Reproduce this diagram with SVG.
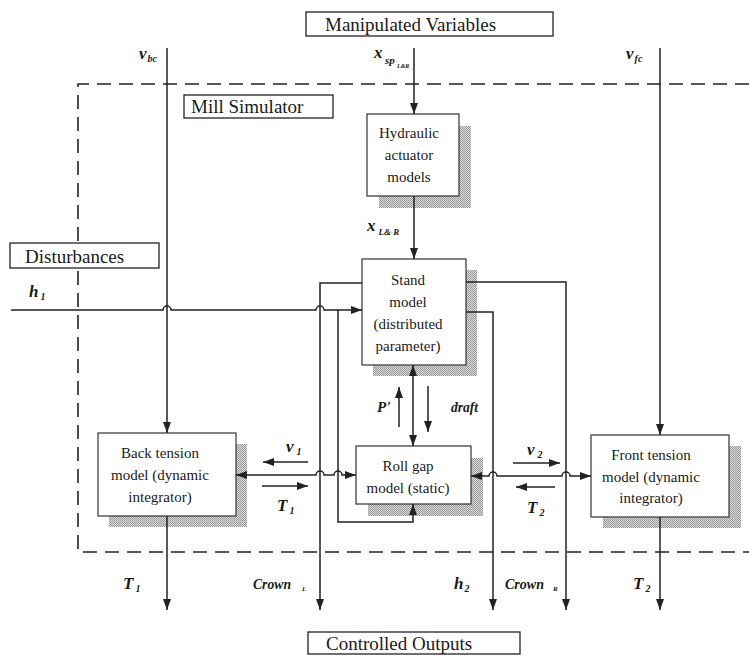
<svg xmlns="http://www.w3.org/2000/svg" width="749" height="655" viewBox="0 0 749 655" font-family="Liberation Serif, Times New Roman, serif">
<style>
.ln{fill:none;stroke:#222;stroke-width:1.5}
.ar{marker-end:url(#ah)}
.bi{marker-start:url(#ah);marker-end:url(#ah)}
.dash{fill:none;stroke:#222;stroke-width:1.6;stroke-dasharray:14 8}
.box{fill:#fff;stroke:#333;stroke-width:1.2}
.lbox{fill:#fff;stroke:#222;stroke-width:1.3}
.sh{fill:url(#stip)}
.t{font-size:15px;fill:#1a1a1a;text-anchor:middle}
.tl{font-size:19px;fill:#1a1a1a}
.lab{font-weight:bold;font-style:italic;fill:#1a1a1a}
</style>
<defs>
<marker id="ah" viewBox="0 0 11 8" refX="11" refY="4" markerWidth="11" markerHeight="8" markerUnits="userSpaceOnUse" orient="auto-start-reverse">
<path d="M0,0 L11,4 L0,8 z" fill="#222"/>
</marker>
<pattern id="stip" width="2" height="2" patternUnits="userSpaceOnUse">
<rect width="2" height="2" fill="#dadada"/>
<rect width="1" height="1" fill="#9a9a9a"/>
<rect x="1" y="1" width="1" height="1" fill="#9a9a9a"/>
</pattern>
</defs>
<rect width="749" height="655" fill="#fff"/>

<path class="dash" d="M749,84 L78,84 L78,552 L749,552"/>

<g id="manipulated">
<rect class="lbox" x="306" y="12" width="247" height="24"/>
<text class="tl" x="325" y="31">Manipulated Variables</text>
</g>
<g id="millsim">
<rect class="lbox" x="184" y="95" width="149" height="23"/>
<text class="tl" x="191" y="113">Mill Simulator</text>
</g>
<g id="disturbances">
<rect class="lbox" x="10" y="243" width="149" height="25"/>
<text class="tl" x="25" y="263">Disturbances</text>
</g>
<g id="controlled">
<rect class="lbox" x="308" y="632" width="212" height="22"/>
<text class="tl" x="326" y="650">Controlled Outputs</text>
</g>

<g id="hydraulic">
<rect class="sh" x="379" y="126" width="92" height="82"/>
<rect class="box" x="367" y="114" width="92" height="82"/>
<text class="t" x="409" y="138">Hydraulic</text>
<text class="t" x="409" y="160">actuator</text>
<text class="t" x="409" y="182">models</text>
</g>
<g id="stand">
<rect class="sh" x="373" y="270" width="104" height="106"/>
<rect class="box" x="362" y="259" width="104" height="106"/>
<text class="t" x="408" y="285">Stand</text>
<text class="t" x="408" y="307">model</text>
<text class="t" x="408" y="329">(distributed</text>
<text class="t" x="408" y="351">parameter)</text>
</g>
<g id="backtension">
<rect class="sh" x="109" y="444" width="138" height="83"/>
<rect class="box" x="98" y="433" width="138" height="83"/>
<text class="t" x="160" y="458">Back tension</text>
<text class="t" x="160" y="480">model (dynamic</text>
<text class="t" x="160" y="502">integrator)</text>
</g>
<g id="rollgap">
<rect class="sh" x="368" y="458" width="115" height="58"/>
<rect class="box" x="356" y="446" width="115" height="58"/>
<text class="t" x="408" y="471">Roll gap</text>
<text class="t" x="408" y="493">model (static)</text>
</g>
<g id="fronttension">
<rect class="sh" x="603" y="446" width="138" height="82"/>
<rect class="box" x="591" y="435" width="138" height="82"/>
<text class="t" x="651" y="460">Front tension</text>
<text class="t" x="651" y="482">model (dynamic</text>
<text class="t" x="651" y="503">integrator)</text>
</g>

<g id="connectors">
<path class="ln ar" d="M167,48 L167,433"/>
<path class="ln ar" d="M414,48 L414,114"/>
<path class="ln ar" d="M660,48 L660,435"/>
<path class="ln ar" d="M414,196 L414,259"/>
<path class="ln bi" d="M413,365 L413,446"/>
<path class="ln ar" d="M399,427 L399,387"/>
<path class="ln ar" d="M428,386 L428,432"/>
<path class="ln ar" d="M11,310 L163,310 A4,4 0 0 1 171,310 L316,310 A4,4 0 0 1 324,310 L362,310"/>
<path class="ln ar" d="M338,310 L338,522 L413,522 L413,504"/>
<path class="ln ar" d="M362,283 L320,283 L320,610"/>
<path class="ln ar" d="M466,282 L566,282 L566,610"/>
<path class="ln ar" d="M466,312 L493,312 L493,610"/>
<path class="ln bi" d="M236,475 L316,475 A4,4 0 0 1 324,475 L334,475 A4,4 0 0 1 342,475 L356,475"/>
<path class="ln bi" d="M471,476 L489,476 A4,4 0 0 1 497,476 L562,476 A4,4 0 0 1 570,476 L591,476"/>
<path class="ln ar" d="M308,462 L263,462"/>
<path class="ln ar" d="M262,486 L308,486"/>
<path class="ln ar" d="M513,463 L560,463"/>
<path class="ln ar" d="M555,487 L516,487"/>
<path class="ln ar" d="M167,516 L167,610"/>
<path class="ln ar" d="M660,517 L660,610"/>
</g>

<g id="labels" font-size="16">
<text class="lab" x="139" y="59" font-size="17">v<tspan font-size="10" dx="1" dy="3">bc</tspan></text>
<text class="lab" x="374" y="58" font-size="17">x</text>
<text class="lab" x="385" y="64" font-size="11">sp</text>
<text class="lab" x="397" y="68" font-size="6">L&amp;R</text>
<text class="lab" x="626" y="59" font-size="17">v<tspan font-size="10" dx="1" dy="3">fc</tspan></text>
<text class="lab" x="367" y="231" font-size="17">x<tspan font-size="9" dx="3" dy="4">L&amp; R</tspan></text>
<text class="lab" x="29" y="297" font-size="17">h<tspan font-size="10" dx="2" dy="3">1</tspan></text>
<text class="lab" x="377" y="412" font-size="15">P'</text>
<text class="lab" x="451" y="412" font-size="15" textLength="27" lengthAdjust="spacingAndGlyphs">draft</text>
<text class="lab" x="286" y="452" font-size="17">v<tspan font-size="10" dx="3" dy="3">1</tspan></text>
<text class="lab" x="277" y="511" font-size="17">T<tspan font-size="10" dx="2" dy="3">1</tspan></text>
<text class="lab" x="527" y="455" font-size="17">v<tspan font-size="10" dx="3" dy="3">2</tspan></text>
<text class="lab" x="527" y="513" font-size="17">T<tspan font-size="10" dx="2" dy="3">2</tspan></text>
<text class="lab" x="123" y="589" font-size="17">T<tspan font-size="10" dx="2" dy="3">1</tspan></text>
<text class="lab" x="253" y="589" font-size="15" textLength="38" lengthAdjust="spacingAndGlyphs">Crown</text>
<text class="lab" x="302" y="591" font-size="7">L</text>
<text class="lab" x="454" y="589" font-size="17">h<tspan font-size="10" dx="1" dy="3">2</tspan></text>
<text class="lab" x="505" y="589" font-size="15" textLength="39" lengthAdjust="spacingAndGlyphs">Crown</text>
<text class="lab" x="553" y="591" font-size="7">R</text>
<text class="lab" x="633" y="589" font-size="17">T<tspan font-size="10" dx="2" dy="3">2</tspan></text>
</g>
</svg>
